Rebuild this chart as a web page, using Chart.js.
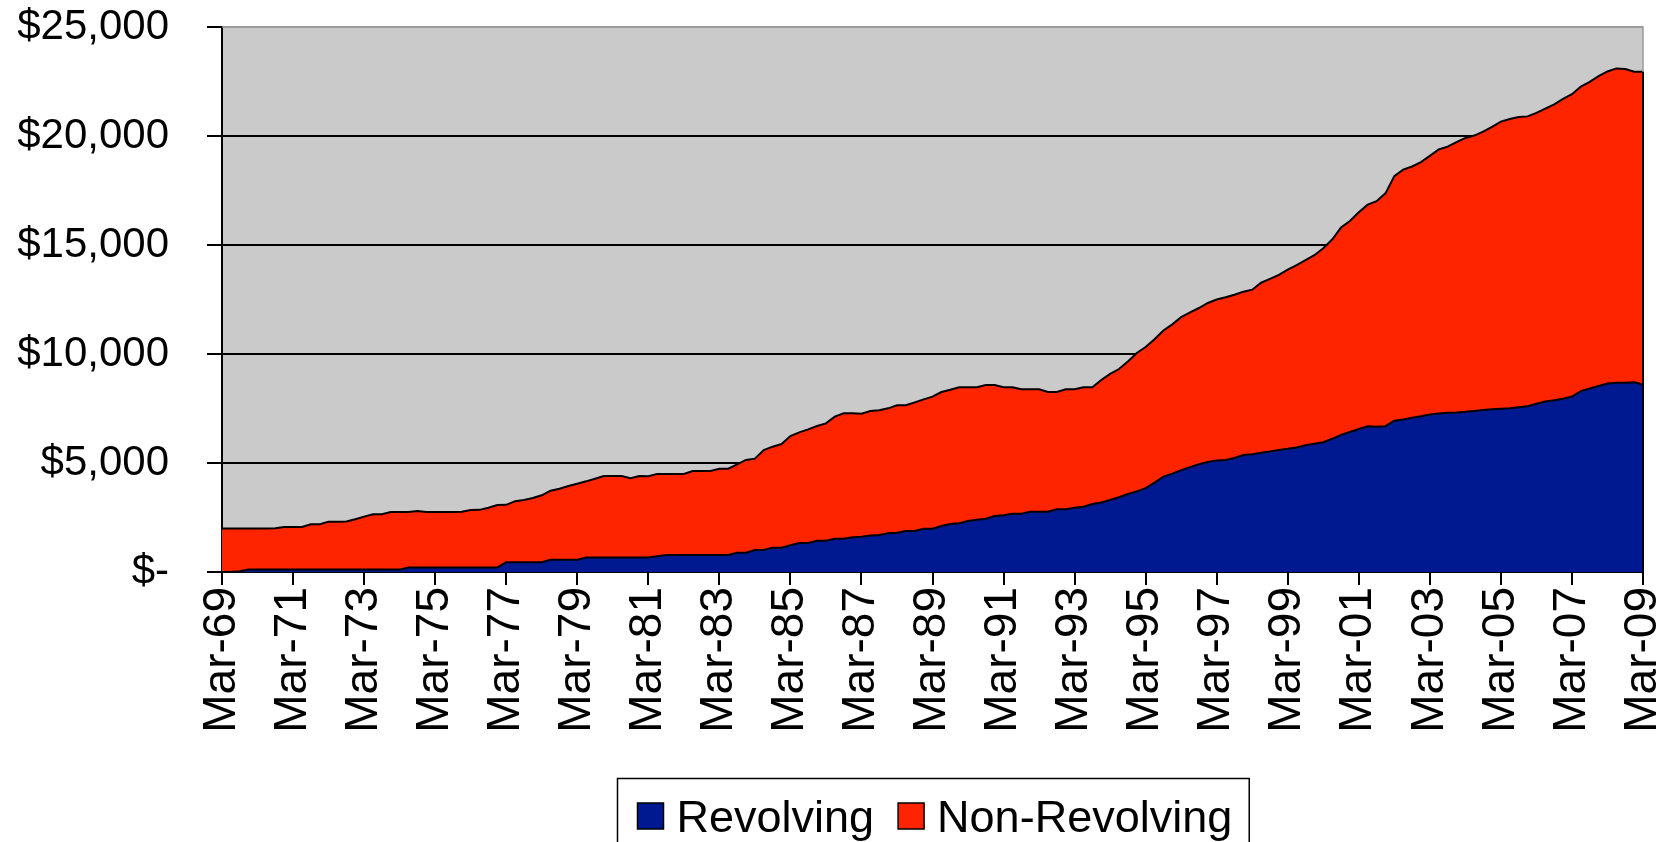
<!DOCTYPE html>
<html>
<head>
<meta charset="utf-8">
<script src="https://cdn.jsdelivr.net/npm/chart.js@4.4.1/dist/chart.umd.min.js"></script>
<style>
  html, body { margin: 0; padding: 0; background: #ffffff; }
  #wrap { width: 1677px; height: 842px; position: relative; }
</style>
</head>
<body>
<div id="wrap"><canvas id="c" width="1677" height="842"></canvas></div>
<script>
// Quarterly observations, Mar-69 through Mar-09
const years = ['69','70','71','72','73','74','75','76','77','78','79',
               '80','81','82','83','84','85','86','87','88','89',
               '90','91','92','93','94','95','96','97','98','99',
               '00','01','02','03','04','05','06','07','08','09'];
const months = ['Mar','Jun','Sep','Dec'];

// Labels shown under the axis (every second March)
const tickLabels = ['Mar-69','Mar-71','Mar-73','Mar-75','Mar-77','Mar-79','Mar-81',
                    'Mar-83','Mar-85','Mar-87','Mar-89','Mar-91','Mar-93','Mar-95',
                    'Mar-97','Mar-99','Mar-01','Mar-03','Mar-05','Mar-07','Mar-09'];

// Revolving credit, dollars
const revolving = [
  0,0,40,110,110,110,110,110,
  110,110,110,110,110,110,110,110,
  110,110,110,110,110,210,210,210,
  210,210,210,210,210,210,210,210,
  445,445,445,445,445,565,565,565,
  565,660,660,660,660,660,660,660,
  660,720,780,780,780,780,780,780,
  780,780,887,887,1009,1009,1116,1116,
  1223,1330,1330,1437,1437,1529,1529,1590,
  1620,1670,1700,1780,1800,1880,1880,1988,
  1988,2110,2200,2233,2339,2400,2446,2569,
  2600,2676,2676,2768,2768,2768,2874,2874,
  2950,2997,3119,3190,3300,3430,3580,3700,
  3850,4100,4373,4510,4670,4810,4940,5050,
  5120,5137,5230,5367,5400,5470,5530,5600,
  5650,5710,5810,5880,5950,6110,6290,6420,
  6560,6680,6666,6690,6940,7000,7080,7140,
  7220,7270,7300,7320,7350,7390,7430,7470,
  7490,7510,7560,7600,7720,7820,7880,7950,
  8050,8300,8420,8530,8650,8684,8684,8700,
  8600
];

// Non-revolving credit, dollars
const nonRevolving = [
  1990,1990,1950,1880,1880,1880,1900,1950,
  1955,1955,2080,2080,2200,2200,2210,2310,
  2430,2535,2540,2640,2640,2545,2590,2540,
  2545,2545,2545,2557,2634,2640,2741,2863,
  2635,2805,2858,2949,3072,3165,3257,3380,
  3486,3499,3621,3744,3744,3744,3640,3744,
  3730,3780,3720,3720,3720,3853,3853,3853,
  3960,3960,4052,4253,4190,4587,4633,4755,
  5015,5076,5214,5260,5382,5596,5749,5688,
  5640,5715,5720,5727,5845,5770,5902,5932,
  6054,6147,6164,6238,6132,6071,6132,6009,
  5871,5795,5704,5611,5611,5489,5383,5505,
  5430,5474,5352,5617,5790,5880,6080,6350,
  6470,6580,6707,6850,7020,7101,7170,7290,
  7380,7463,7490,7493,7550,7800,7920,8030,
  8220,8372,8500,8650,8900,9140,9510,9680,
  9940,10170,10344,10680,11220,11460,11520,11660,
  11870,12110,12210,12400,12560,12630,12770,12950,
  13170,13270,13310,13300,13340,13440,13570,13750,
  13870,13970,14060,14220,14310,14416,14386,14250,
  14350
];

const categories = [];
years.forEach(y => months.forEach(m => categories.push(m + '-' + y)));
categories.length = revolving.length;

const FONT = '"Liberation Sans", Arial, sans-serif';
Chart.defaults.font.family = FONT;
Chart.defaults.color = '#000000';

// Grey plot area, plus the frame and the right edge of the stacked area
const plotFrame = {
  id: 'plotFrame',
  beforeDraw(chart) {
    const { ctx, chartArea: a } = chart;
    ctx.save();
    ctx.fillStyle = '#cacaca';
    ctx.fillRect(a.left, a.top, a.right - a.left, a.bottom - a.top);
    ctx.restore();
  },
  afterDatasetsDraw(chart) {
    const { ctx, chartArea: a } = chart;
    ctx.save();
    ctx.strokeStyle = '#9a9a9a';
    ctx.lineWidth = 1.5;
    ctx.beginPath();
    ctx.moveTo(a.left, a.top);
    ctx.lineTo(a.right, a.top);
    ctx.lineTo(a.right, a.bottom);
    ctx.stroke();
    const meta = chart.getDatasetMeta(1);
    const last = meta.data[meta.data.length - 1];
    ctx.strokeStyle = '#000000';
    ctx.lineWidth = 2;
    ctx.beginPath();
    ctx.moveTo(last.x, last.y);
    ctx.lineTo(last.x, a.bottom);
    ctx.stroke();
    ctx.restore();
  }
};

// Boxed legend centred under the plot area
const boxLegend = {
  id: 'boxLegend',
  afterDraw(chart) {
    const { ctx, chartArea: a } = chart;
    ctx.save();
    ctx.font = '45px ' + FONT;
    const sw = 26, gap = 13, itemGap = 24, padL = 20, padR = 17;
    const items = chart.data.datasets.map(d => ({ label: d.label, color: d.backgroundColor }));
    let total = padL + padR;
    items.forEach((it, i) => { total += sw + gap + ctx.measureText(it.label).width + (i ? itemGap : 0); });
    let x = Math.round((a.left + a.right) / 2 - total / 2) + 0.5;
    const top = 778.5, sqTop = 803, baseline = 832;
    ctx.strokeStyle = '#000000';
    ctx.lineWidth = 1.5;
    ctx.strokeRect(x, top, total, 120);
    x += padL;
    items.forEach((it, i) => {
      if (i) x += itemGap;
      ctx.fillStyle = it.color;
      ctx.fillRect(x, sqTop, sw, sw);
      ctx.strokeStyle = '#000000';
      ctx.lineWidth = 1.5;
      ctx.strokeRect(x, sqTop, sw, sw);
      x += sw + gap;
      ctx.fillStyle = '#000000';
      ctx.textBaseline = 'alphabetic';
      ctx.fillText(it.label, x, baseline);
      x += ctx.measureText(it.label).width;
    });
    ctx.restore();
  }
};

new Chart(document.getElementById('c'), {
  type: 'line',
  data: {
    labels: categories,
    datasets: [
      {
        label: 'Revolving',
        data: revolving,
        backgroundColor: '#001890',
        borderColor: '#000000',
        borderWidth: 2,
        fill: 'origin',
        pointRadius: 0,
        tension: 0
      },
      {
        label: 'Non-Revolving',
        data: nonRevolving,
        backgroundColor: '#ff2400',
        borderColor: '#000000',
        borderWidth: 2,
        fill: '-1',
        pointRadius: 0,
        tension: 0
      }
    ]
  },
  options: {
    responsive: false,
    animation: false,
    devicePixelRatio: 1,
    layout: { padding: { top: 27, right: 34, bottom: 0, left: 0 } },
    plugins: {
      legend: { display: false },
      tooltip: { enabled: false }
    },
    scales: {
      x: {
        stacked: true,
        offset: false,
        afterFit(scale) {
          scale.height = 270;
          scale.paddingLeft = 0;
          scale.paddingRight = 0;
        },
        border: { display: true, color: '#000000', width: 2 },
        grid: {
          display: true,
          drawOnChartArea: false,
          drawTicks: true,
          tickLength: 13,
          color: '#000000',
          lineWidth: 2
        },
        ticks: {
          autoSkip: false,
          maxRotation: 90,
          minRotation: 90,
          padding: 2,
          font: { size: 46 },
          color: '#000000',
          callback(value, index) {
            const lab = categories[index];
            return tickLabels.includes(lab) ? lab : null;
          }
        }
      },
      y: {
        stacked: true,
        min: 0,
        max: 25000,
        afterFit(scale) {
          scale.width = 222;
          scale.paddingTop = 0;
          scale.paddingBottom = 0;
        },
        border: { display: true, color: '#000000', width: 2 },
        grid: {
          drawTicks: true,
          tickLength: 15,
          lineWidth: 2,
          color(ctx) { return ctx.tick && ctx.tick.value === 25000 ? '#9a9a9a' : '#000000'; },
          tickColor: '#000000'
        },
        ticks: {
          stepSize: 5000,
          padding: 38,
          font: { size: 42 },
          color: '#000000',
          callback(value) {
            return value === 0 ? '$-' : '$' + value.toLocaleString('en-US');
          }
        }
      }
    }
  },
  plugins: [plotFrame, boxLegend]
});
</script>
</body>
</html>
